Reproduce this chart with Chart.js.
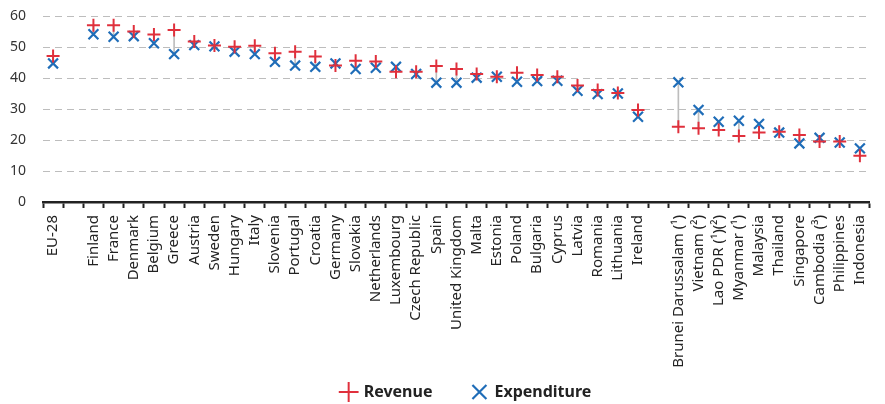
<!DOCTYPE html>
<html>
<head>
<meta charset="utf-8">
<script src="https://cdn.jsdelivr.net/npm/chart.js@4.4.0/dist/chart.umd.min.js"></script>
<style>
  html, body { margin: 0; padding: 0; background: #fff; }
  #wrap { width: 885px; height: 404px; }
</style>
</head>
<body>
<div id="wrap"><canvas id="chart"></canvas></div>
<script>
// categories ('' = empty slot between groups)
const countries = [
    'EU-28', '',
    'Finland', 'France', 'Denmark', 'Belgium', 'Greece', 'Austria', 'Sweden',
    'Hungary', 'Italy', 'Slovenia', 'Portugal', 'Croatia', 'Germany', 'Slovakia',
    'Netherlands', 'Luxembourg', 'Czech Republic', 'Spain', 'United Kingdom',
    'Malta', 'Estonia', 'Poland', 'Bulgaria', 'Cyprus', 'Latvia', 'Romania',
    'Lithuania', 'Ireland', '',
    'Brunei Darussalam (¹)', 'Vietnam (²)', 'Lao PDR (¹)(²)', 'Myanmar (¹)',
    'Malaysia', 'Thailand', 'Singapore', 'Cambodia (³)', 'Philippines', 'Indonesia'
];

const revenue = [
    47.1, null,
    57.0, 57.0, 55.0, 54.0, 55.5, 51.8, 50.5,
    50.1, 50.4, 48.0, 48.5, 46.9, 44.0, 45.6,
    45.3, 42.0, 42.0, 43.9, 42.9,
    41.3, 40.4, 41.7, 41.0, 40.4, 37.6, 36.1,
    35.2, 29.7, null,
    24.3, 23.8, 23.2, 21.3,
    22.4, 22.7, 21.6, 19.5, 19.5, 14.9
];

const expenditure = [
    44.7, null,
    54.1, 53.3, 53.5, 51.2, 47.7, 50.6, 50.2,
    48.5, 47.7, 45.2, 44.0, 43.6, 44.7, 42.9,
    43.3, 43.6, 41.3, 38.5, 38.5,
    40.1, 40.4, 38.8, 39.0, 39.1, 35.9, 34.8,
    35.0, 27.5, null,
    38.6, 29.7, 25.9, 26.2,
    25.2, 22.4, 18.9, 20.7, 19.2, 17.3
];

const yTicks = [0, 10, 20, 30, 40, 50, 60];

// thin connector from revenue to expenditure
const spans = revenue.map((r, i) => {
    const e = expenditure[i];
    if (r === null || e === null) return null;
    return [Math.min(r, e), Math.max(r, e)];
});

const FONT = "'Noto Sans', 'DejaVu Sans', sans-serif";
Chart.defaults.font.family = FONT;
Chart.defaults.color = '#333';

// nudge the legend a bit, like the original layout
const shiftLegendPlugin = {
    id: 'shiftLegend',
    afterLayout(chart, args, options) {
        if (chart.legend) {
            chart.legend.left += options.dx;
            chart.legend.right += options.dx;
            chart.legend.top += options.dy;
            chart.legend.bottom += options.dy;
        }
    }
};

// dashed horizontal grid lines at the y ticks (skip 0, the axis is there)
const dashedGridPlugin = {
    id: 'dashedGrid',
    beforeDatasetsDraw(chart, args, options) {
        const { ctx, chartArea } = chart;
        const y = chart.scales.y;
        ctx.save();
        ctx.strokeStyle = options.color;
        ctx.lineWidth = 1;
        ctx.setLineDash(options.dash);
        y.ticks.forEach(t => {
            if (t.value === 0) return;
            const py = Math.round(y.getPixelForValue(t.value)) + 0.5;
            ctx.beginPath();
            ctx.moveTo(chartArea.left, py);
            ctx.lineTo(chartArea.right, py);
            ctx.stroke();
        });
        ctx.restore();
    }
};

const ctx = document.getElementById('chart').getContext('2d');
new Chart(ctx, {
    data: {
        labels: countries,
        datasets: [
            {
                type: 'line',
                label: 'Revenue',
                data: revenue,
                showLine: false,
                pointStyle: 'cross',
                pointRadius: 6.5,
                pointHoverRadius: 6.5,
                pointBorderWidth: 2,
                borderWidth: 2,
                borderColor: '#e0303c',
                backgroundColor: '#e0303c',
                order: 1
            },
            {
                type: 'line',
                label: 'Expenditure',
                data: expenditure,
                showLine: false,
                pointStyle: 'crossRot',
                pointRadius: 7,
                pointHoverRadius: 7,
                pointBorderWidth: 2.2,
                borderWidth: 2.2,
                borderColor: '#1f6db8',
                backgroundColor: '#1f6db8',
                order: 2
            },
            {
                type: 'bar',
                label: 'span',
                data: spans,
                backgroundColor: '#bdbdbd',
                barThickness: 1,
                grouped: false,
                order: 3
            }
        ]
    },
    options: {
        responsive: true,
        maintainAspectRatio: false,
        animation: false,
        layout: { padding: { top: 16, right: 0, left: 0, bottom: 0 } },
        plugins: {
            tooltip: { enabled: false },
            shiftLegend: { dx: 24, dy: 6 },
            dashedGrid: { color: '#bdbdbd', dash: [7, 5] },
            legend: {
                position: 'bottom',
                labels: {
                    usePointStyle: true,
                    boxWidth: 14,
                    boxHeight: 14,
                    padding: 8,
                    color: '#222',
                    font: { size: 16, weight: 'bold' },
                    filter: (item) => item.text !== 'span',
                    generateLabels: (chart) => {
                        const items = Chart.defaults.plugins.legend.labels.generateLabels(chart);
                        items.forEach(it => {
                            if (it.text === 'Revenue') it.text = 'Revenue\u2003\u2003';
                        });
                        return items;
                    }
                }
            }
        },
        scales: {
            x: {
                offset: true,
                grid: {
                    offset: true,
                    drawOnChartArea: false,
                    drawTicks: true,
                    tickLength: 6,
                    tickWidth: 2,
                    tickColor: '#222'
                },
                border: { display: true, color: '#222', width: 2.5 },
                ticks: {
                    autoSkip: false,
                    maxRotation: 90,
                    minRotation: 90,
                    padding: 7,
                    color: '#222',
                    font: { size: 15 }
                },
                afterFit: (scale) => { scale.height = 168; }
            },
            y: {
                min: 0,
                max: 60,
                afterBuildTicks: (scale) => {
                    scale.ticks = yTicks.map(v => ({ value: v }));
                },
                afterFit: (scale) => { scale.width = 43; },
                grid: {
                    drawOnChartArea: false,
                    drawTicks: true,
                    tickLength: 14,
                    tickColor: 'rgba(0,0,0,0)'
                },
                border: { display: false },
                ticks: {
                    padding: 3,
                    color: '#333',
                    font: { size: 14 }
                }
            }
        }
    },
    plugins: [shiftLegendPlugin, dashedGridPlugin]
});
</script>
</body>
</html>
